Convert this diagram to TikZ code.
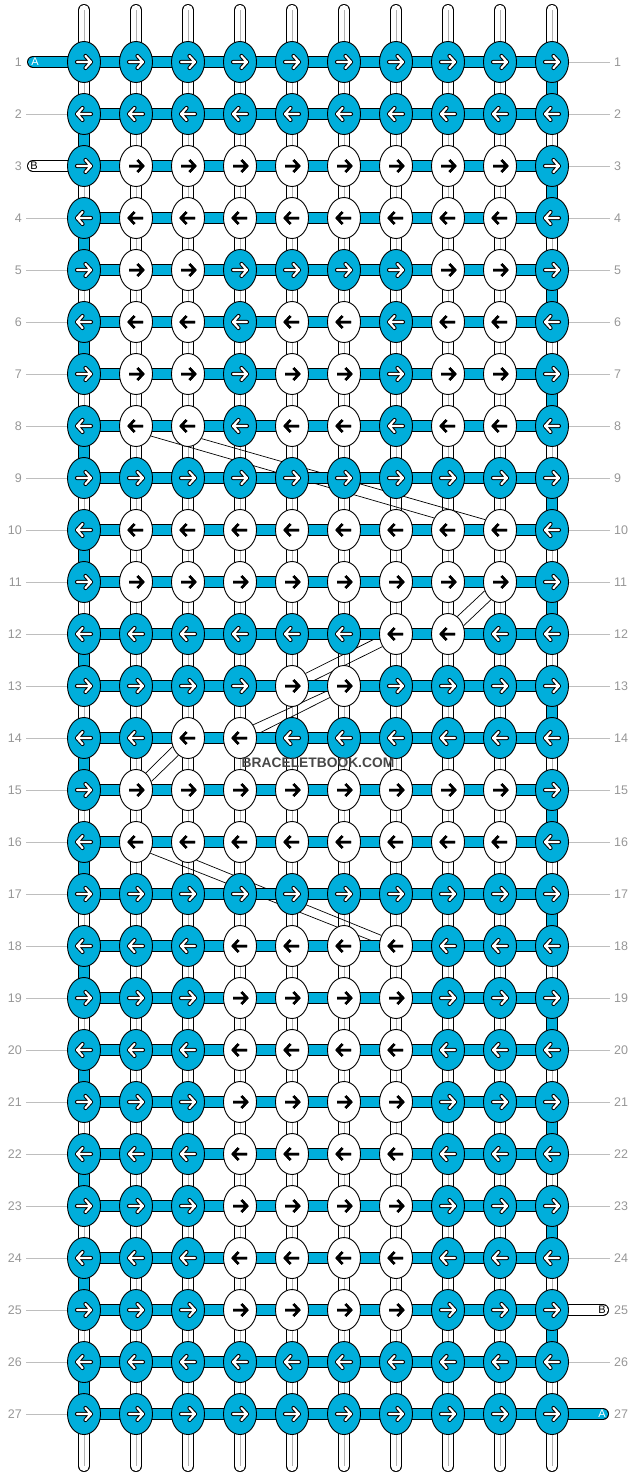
\documentclass[tikz,border=0pt]{standalone}
\usepackage{fontspec}
\setmainfont{Liberation Sans}
\usetikzlibrary{shapes.geometric}
\pgfdeclarelayer{bg}
\pgfsetlayers{bg,main}

\definecolor{threadA}{RGB}{0,174,219}
\definecolor{numgray}{RGB}{150,150,150}
\definecolor{linegray}{RGB}{190,190,190}

\tikzset{
  knot/.style={ellipse, draw=black, line width=0.9pt, minimum width=33pt, minimum height=41pt, inner sep=0pt},
  knotb/.style={knot, fill=threadA},
  knotw/.style={knot, fill=white},
  % outlined white arrow on blue, plain black arrow on white
  arrAb/.style={black, line width=4.2pt, line cap=round, line join=round},
  arrBb/.style={white, line width=2.2pt, line cap=round, line join=round},
  arrAw/.style={black, line width=2.5pt},
  arrBw/.style={black, line width=2.5pt},
  strand/.style={draw=black, line width=0.9pt, double=white, double distance=10.2pt, line cap=round},
  strandmid/.style={draw=black!30, line width=0.8pt},
  barA/.style={draw=black, line width=0.9pt, double=threadA, double distance=10.2pt},
  barB/.style={draw=black, line width=0.9pt, double=white, double distance=10.2pt},
  bline/.style={black, line width=0.7pt},
  rownum/.style={text=numgray, font=\fontsize{12.5}{14}\selectfont, inner sep=0pt},
  rowline/.style={draw=linegray, line width=0.8pt},
  endlbl/.style={font=\fontsize{11}{12}\selectfont, inner sep=0pt},
}

\begin{document}
\begin{tikzpicture}[x=1pt, y=-1pt]
    \useasboundingbox (0,0) rectangle (636,1476);

    % knots, row by row
    \foreach \r/\pat in {
        1/{b,b,b,b,b,b,b,b,b,b},
        2/{b,b,b,b,b,b,b,b,b,b},
        3/{b,w,w,w,w,w,w,w,w,b},
        4/{b,w,w,w,w,w,w,w,w,b},
        5/{b,w,w,b,b,b,b,w,w,b},
        6/{b,w,w,b,w,w,b,w,w,b},
        7/{b,w,w,b,w,w,b,w,w,b},
        8/{b,w,w,b,w,w,b,w,w,b},
        9/{b,b,b,b,b,b,b,b,b,b},
        10/{b,w,w,w,w,w,w,w,w,b},
        11/{b,w,w,w,w,w,w,w,w,b},
        12/{b,b,b,b,b,b,w,w,b,b},
        13/{b,b,b,b,w,w,b,b,b,b},
        14/{b,b,w,w,b,b,b,b,b,b},
        15/{b,w,w,w,w,w,w,w,w,b},
        16/{b,w,w,w,w,w,w,w,w,b},
        17/{b,b,b,b,b,b,b,b,b,b},
        18/{b,b,b,w,w,w,w,b,b,b},
        19/{b,b,b,w,w,w,w,b,b,b},
        20/{b,b,b,w,w,w,w,b,b,b},
        21/{b,b,b,w,w,w,w,b,b,b},
        22/{b,b,b,w,w,w,w,b,b,b},
        23/{b,b,b,w,w,w,w,b,b,b},
        24/{b,b,b,w,w,w,w,b,b,b},
        25/{b,b,b,w,w,w,w,b,b,b},
        26/{b,b,b,b,b,b,b,b,b,b},
        27/{b,b,b,b,b,b,b,b,b,b}}{
        \ifodd\r \def\dir{1}\else \def\dir{-1}\fi
        \foreach \k [count=\c] in \pat {
            \pgfmathsetmacro{\x}{84+52*(\c-1)}
            \pgfmathsetmacro{\y}{62+52*(\r-1)}
            \node[knot\k] (k\r-\c) at (\x,\y) {};
            \draw[arrA\k, shift={(\x,\y)}, xscale=\dir] (-7,0) -- (7,0) (1.5,-6) -- (7,0) -- (1.5,6);
            \draw[arrB\k, shift={(\x,\y)}, xscale=\dir] (-7,0) -- (7,0) (1.5,-6) -- (7,0) -- (1.5,6);
        }
    }

    % row numbers
    \foreach \r in {1,...,27} {
        \pgfmathsetmacro{\y}{62+52*(\r-1)}
        \node[rownum, anchor=east] (nl\r) at (22,\y) {\r};
        \node[rownum, anchor=west] (nr\r) at (614,\y) {\r};
    }

    % loose thread ends
    \coordinate (endA1) at (33,62);
    \coordinate (endB3) at (33,166);
    \coordinate (endB25) at (603,1310);
    \coordinate (endA27) at (603,1414);
    \node[endlbl, text=white] (lblA1) at (35,62) {A};
    \node[endlbl, text=black] (lblB3) at (34,166) {B};
    \node[endlbl, text=black] (lblB25) at (602,1310) {B};
    \node[endlbl, text=white] (lblA27) at (602,1414) {A};

    \begin{pgfonlayer}{bg}
        % vertical strands
        \foreach \c in {1,...,10} {
            \pgfmathsetmacro{\x}{84+52*(\c-1)}
            \coordinate (top\c) at (\x,10);
            \coordinate (bot\c) at (\x,1466);
            \draw[strand] (top\c) -- (bot\c);
            \draw[strandmid] (top\c) -- (bot\c);
        }

        % thread B carried behind
        \draw[bline] (k8-2.326) -- (k10-8.139);
        \draw[bline] (k8-3.317) -- (k10-9.145);
        \draw[bline] (k11-9.210) -- (k12-8.62);
        \draw[bline] (k11-9.243) -- (k12-8.28);
        \draw[bline] (k12-7.189) -- (k13-5.43);
        \draw[bline] (k12-7.223) -- (k13-5.10);
        \draw[bline] (k13-6.196) -- (k14-4.45);
        \draw[bline] (k13-6.219) -- (k14-4.12);
        \draw[bline] (k14-3.209) -- (k15-2.60);
        \draw[bline] (k14-3.241) -- (k15-2.29);
        \draw[bline] (k16-2.322) -- (k18-7.172);
        \draw[bline] (k16-3.295) -- (k18-7.144);

        % horizontal thread A
        \foreach \r in {1,...,27}
            \draw[barA] (k\r-1.center) -- (k\r-10.center);
        \foreach \r [evaluate=\r as \s using int(\r+1)] in {1,3,...,25}
            \draw[barA] (k\r-10.center) -- (k\s-10.center);
        \foreach \r [evaluate=\r as \s using int(\r+1)] in {2,4,...,26}
            \draw[barA] (k\r-1.center) -- (k\s-1.center);

        \draw[barA, line cap=round] (endA1) -- (k1-1.center);
        \draw[barB, line cap=round] (endB3) -- (k3-1.center);
        \draw[barB, line cap=round] (endB25) -- (k25-10.center);
        \draw[barA, line cap=round] (endA27) -- (k27-10.center);

        % guide lines to the row numbers
        \foreach \r in {2,4,5,...,27}
            \draw[rowline, shorten <=4pt] (nl\r.east) -- (k\r-1.center);
        \foreach \r in {1,...,24,26}
            \draw[rowline, shorten <=4pt] (nr\r.west) -- (k\r-10.center);
    \end{pgfonlayer}

    \node[text=black!72, font=\bfseries\fontsize{13.8}{15}\selectfont, inner sep=0pt] (mark) at (318,763) {BRACELETBOOK.COM};
\end{tikzpicture}
\end{document}
